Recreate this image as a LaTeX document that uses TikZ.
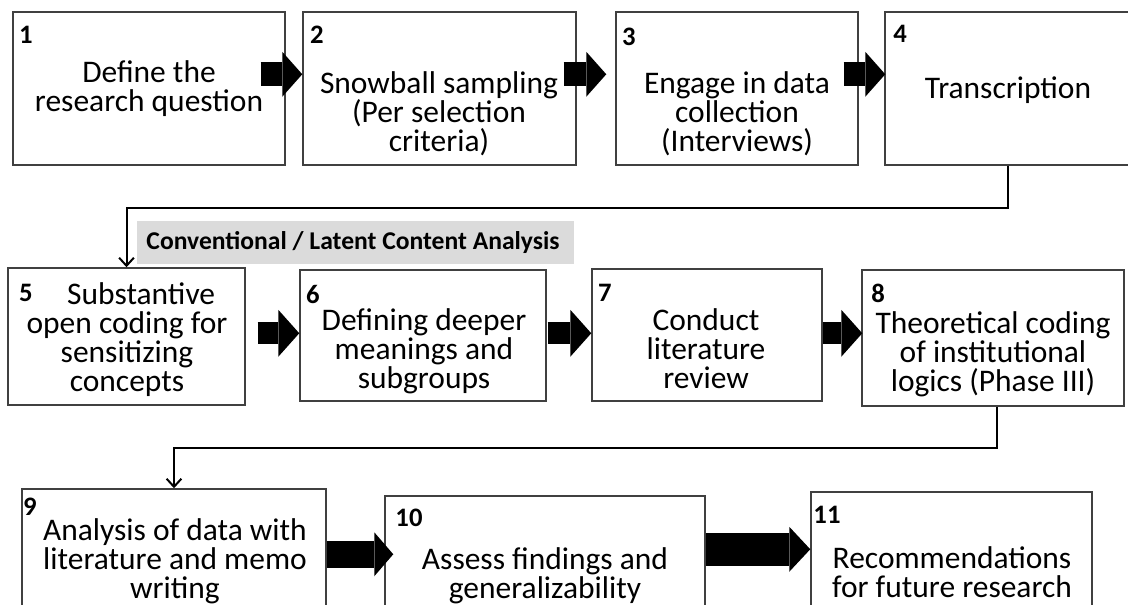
\documentclass[tikz,border=0pt]{standalone}
\usepackage{fontspec}
\setmainfont{Carlito}
\usetikzlibrary{arrows.meta,calc,fit}
\begin{document}
\begin{tikzpicture}[x=0.75pt,y=-0.75pt,
  box/.style={draw=black!75, line width=1.1pt, inner sep=0pt, fill=none},
  txt/.style={font=\fontsize{23.6}{21.8}\selectfont, align=center, inner sep=0pt},
  num/.style={font=\bfseries\fontsize{20}{20}\selectfont, inner sep=0pt},
  conn/.style={line width=1.5pt, -{Straight Barb[length=6pt,width=11pt]}},
  blkA/.style={line width=18pt, -{Triangle[length=15pt,width=33.75pt,line width=0pt]}},
  blkB/.style={line width=16.5pt, -{Triangle[length=15.75pt,width=35.25pt,line width=0pt]}},
  blkC/.style={line width=20.25pt, -{Triangle[length=14.25pt,width=33pt,line width=0pt]}},
  blkD/.style={line width=24.75pt, -{Triangle[length=15.75pt,width=33.75pt,line width=0pt]}},
  band/.style={fill=black!14, draw=none, inner sep=0pt},
  bandtxt/.style={font=\bfseries\fontsize{19.2}{20}\selectfont, inner sep=0pt}
]
\useasboundingbox (0,0) rectangle (1128,605);
\clip (0,0) rectangle (1128,605);
\fill[white] (0,0) rectangle (1128,605);

% boxes
\node[box, fit={(13,12) (285,165)}] (b1) {};
\node[box, fit={(303,12) (576,165)}] (b2) {};
\node[box, fit={(616,12) (858,165)}] (b3) {};
\node[box, fit={(885,12) (1131,165)}] (b4) {};
\node[box, fit={(8,268) (245,405)}] (b5) {};
\node[box, fit={(300,270) (546,401)}] (b6) {};
\node[box, fit={(592,269) (822,401)}] (b7) {};
\node[box, fit={(862,270) (1124,406)}] (b8) {};
\node[box, fit={(22,489) (326,640)}] (b9) {};
\node[box, fit={(385,496) (705,640)}] (b10) {};
\node[box, fit={(811,492) (1092,640)}] (b11) {};

% band
\node[band, fit={(137,221) (574,264)}] (bd) {};
\node[bandtxt] (bdt) at (353,243) {Conventional / Latent Content Analysis};

% numbers
\node[num] (n1) at (26,35) {1};
\node[num] (n2) at (317,35) {2};
\node[num] (n3) at (629,37) {3};
\node[num] (n4) at (900,34) {4};
\node[num] (n5) at (26,293) {5};
\node[num] (n6) at (313,294) {6};
\node[num] (n7) at (605,293) {7};
\node[num] (n8) at (878,293) {8};
\node[num] (n9) at (30,507) {9};
\node[num] (n10) at (409,518) {10};
\node[num] (n11) at (827,515) {11};

% texts
\node[txt] (t1) at (149,89) {Define the\\research question};
\node[txt] (t2) at (439,114) {Snowball sampling\\(Per selection\\criteria)};
\node[txt] (t3) at (737,114) {Engage in data\\collection\\(Interviews)};
\node[txt] (t4) at (1008,90) {Transcription};
\node[txt] (t5) at (127,340) {\hspace*{0.9em}Substantive\\open coding for\\sensitizing\\concepts};
\node[txt] (t6) at (424,351) {Defining deeper\\meanings and\\subgroups};
\node[txt] (t7) at (706,349) {Conduct\\literature\\review};
\node[txt] (t8) at (993,354) {Theoretical coding\\of institutional\\logics (Phase III)};
\node[txt] (t9) at (175,561) {Analysis of data with\\literature and memo\\writing};
\node[txt] (t10) at (545,576) {Assess findings and\\generalizability};
\node[txt] (t11) at (952,572) {Recommendations\\for future research};

% block arrows
\draw[blkA] ($(b1.north east)+(-25,63)$) -- ($(b2.north west)+(0,63)$);
\draw[blkA] ($(b2.north east)+(-13,63)$) -- ($(b3.north west)+(-9,63)$);
\draw[blkA] ($(b3.north east)+(-15,63)$) -- ($(b4.north west)+(1,63)$);
\draw[blkB] ($(b5.north east)+(12,66)$) -- ($(b6.north west)+(0,64)$);
\draw[blkB] ($(b6.north east)+(1,64)$) -- ($(b7.north west)+(0,65)$);
\draw[blkB] ($(b7.north east)+(0,65)$) -- ($(b8.north west)+(1,64)$);
\draw[blkC] ($(b9.north east)+(0,66)$) -- ($(b10.north west)+(9,59)$);
\draw[blkD] ($(b10.north east)+(0,54)$) -- ($(b11.north west)+(0,58)$);

% connectors
\draw[conn] (b4.south) -- ++(0,42) -| (b5.north);
\draw[conn] ([xshift=3pt]b8.south) -- ++(0,41) -| (b9.north);
\end{tikzpicture}
\end{document}
